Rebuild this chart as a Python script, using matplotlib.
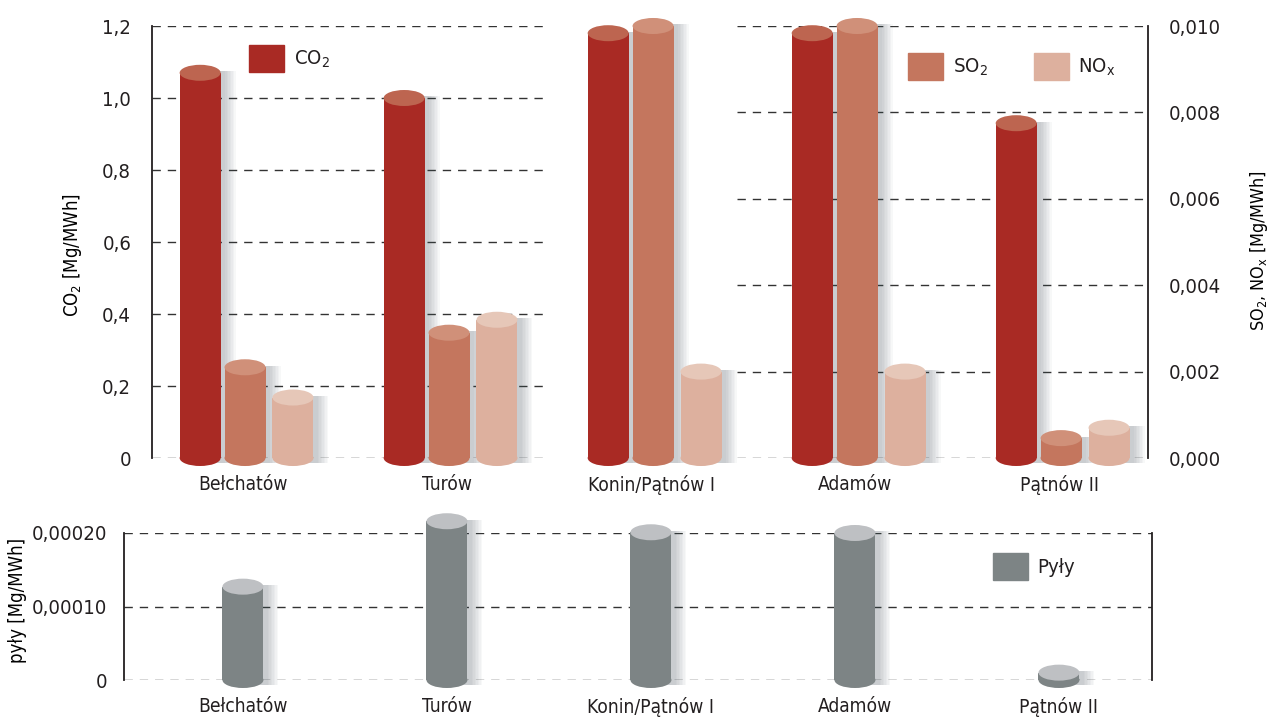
import numpy as np
import matplotlib
matplotlib.use('Agg')
import matplotlib.pyplot as plt
import matplotlib.font_manager as fm
from matplotlib.font_manager import FontProperties
from matplotlib.textpath import TextPath
from matplotlib.patches import Ellipse, Patch
from matplotlib.lines import Line2D
from matplotlib.transforms import blended_transform_factory

# look for a narrow face, the original uses a condensed font
family, stretch = 'DejaVu Sans', 'normal'
narrow = [f for f in fm.fontManager.ttflist
          if f.style == 'normal' and f.weight in (400, 'normal', 'regular')
          and (f.stretch in ('condensed', 'semi-condensed', 'extra-condensed')
               or 'Narrow' in f.name or 'Condensed' in f.name)]
for pref in ['Liberation Sans Narrow', 'DejaVu Sans', 'Roboto Condensed', 'Noto Sans',
             'Open Sans', 'Liberation Sans']:
    hit = [f for f in narrow if f.name == pref]
    if hit:
        family, stretch = hit[0].name, hit[0].stretch
        break
else:
    if narrow:
        family, stretch = narrow[0].name, narrow[0].stretch
    elif any(f.name == 'Roboto' for f in fm.fontManager.ttflist):
        family = 'Roboto'

plt.rcParams['font.family'] = [family, 'DejaVu Sans']
plt.rcParams['font.stretch'] = stretch
plt.rcParams['mathtext.fontset'] = 'custom'
plt.rcParams['mathtext.rm'] = family
plt.rcParams['mathtext.it'] = family
plt.rcParams['text.color'] = '#231f20'
plt.rcParams['xtick.color'] = '#231f20'
plt.rcParams['ytick.color'] = '#231f20'

# scale font sizes so that a label is as wide as in the original (87 px)
tp = TextPath((0, 0), 'Bełchatów', size=16.5, prop=FontProperties(family=family, stretch=stretch))
fs = min(1.0, 87.0 / (tp.get_extents().width * 100 / 72))

# data
plants = ['Bełchatów', 'Turów', 'Konin/Pątnów I', 'Adamów', 'Pątnów II']
co2 = [1.07, 1.0, 1.18, 1.18, 0.93]
so2 = [0.0021, 0.0029, 0.0100, 0.0100, 0.00046]
nox = [0.0014, 0.0032, 0.0020, 0.0020, 0.0007]
pyly = [0.000127, 0.000216, 0.000201, 0.000200, 0.00001]

left_ticks = [0, 0.2, 0.4, 0.6, 0.8, 1.0, 1.2]
left_labels = ['0', '0,2', '0,4', '0,6', '0,8', '1,0', '1,2']
right_ticks = [0, 0.002, 0.004, 0.006, 0.008, 0.010]
right_labels = ['0,000', '0,002', '0,004', '0,006', '0,008', '0,010']
bottom_ticks = [0, 0.0001, 0.0002]
bottom_labels = ['0', '0,00010', '0,00020']

# colours (body, top)
c_co2 = ('#a92a24', '#bd6550')
c_so2 = ('#c4765e', '#d09079')
c_nox = ('#ddb09e', '#e6c7b8')
c_pyl = ('#7d8485', '#bec0c3')

W, H = 1275, 719
fig = plt.figure(figsize=(W / 100, H / 100), dpi=100)

ax = fig.add_axes([152 / W, 1 - 458 / H, 996 / W, 432 / H])
ax2 = ax.twinx()
ax3 = fig.add_axes([124 / W, 1 - 680 / H, 1028 / W, 147 / H])

PX = 1 / 204.0   # one pixel in x data units
BW = 41 * PX


def cylinder(a, xs, vals, colors, ell_px, ax_px, ymax):
    ell = ell_px / ax_px * ymax
    xs = np.asarray(xs)
    # soft shadow, mostly to the right
    for k in range(1, 9):
        a.bar(xs + (3 + k) * PX, np.asarray(vals) + ell * 0.4, width=BW + k * PX,
              bottom=-ell * 0.3, color='#4a5560', alpha=0.04, linewidth=0,
              zorder=2, clip_on=False)
    a.bar(xs, vals, width=BW, color=colors[0], linewidth=0, zorder=3, clip_on=False)
    for x, v in zip(xs, vals):
        a.add_patch(Ellipse((x, 0), BW, ell, color=colors[0], lw=0, zorder=3, clip_on=False))
        a.add_patch(Ellipse((x, v), BW, ell, color=colors[1], lw=0, zorder=4, clip_on=False))


x = np.arange(len(plants))
cylinder(ax, x - 0.21, co2, c_co2, 16, 432, 1.2)
cylinder(ax2, x + 0.01, so2, c_so2, 16, 431, 0.010)
cylinder(ax2, x + 0.245, nox, c_nox, 16, 431, 0.010)
cylinder(ax3, x, pyly, c_pyl, 16, 147, 0.0002)

# gridlines: left scale on the left part, right scale on the right part
grid_kw = dict(color='#333333', lw=1.0, linestyle=(0, (6, 5)), zorder=0)
ax.hlines(left_ticks, -0.446, 1.49, **grid_kw)
tr = blended_transform_factory(ax.transData, ax2.transData)
for v in right_ticks:
    ax.add_line(Line2D([2.42, 4.436], [v, v], transform=tr, **grid_kw))
ax3.hlines(bottom_ticks, -0.583, 4.456, **grid_kw)

ax.set_xlim(-0.446, 4.436)
ax.set_ylim(0, 1.2)
ax2.set_ylim(0, 0.010)
ax3.set_xlim(-0.583, 4.456)
ax3.set_ylim(0, 0.0002)

ax.set_yticks(left_ticks, left_labels)
ax2.set_yticks(right_ticks, right_labels)
ax3.set_yticks(bottom_ticks, bottom_labels)
ax.set_xticks(x, plants)
ax3.set_xticks(x, plants)

for a in (ax, ax2, ax3):
    a.tick_params(length=0, labelsize=17.5 * fs)
    a.tick_params(axis='x', pad=12, labelsize=16.5 * fs)
    for s in a.spines.values():
        s.set_visible(False)
        s.set_color('#231f20')
        s.set_linewidth(1.3)
ax.tick_params(axis='y', pad=15)
ax2.tick_params(axis='y', pad=15)
ax3.tick_params(axis='y', pad=12)
ax.spines['left'].set_visible(True)
ax2.spines['right'].set_visible(True)
ax3.spines['left'].set_visible(True)
ax3.spines['right'].set_visible(True)

ax.set_ylabel('CO$_2$ [Mg/MWh]', fontsize=16 * fs)
ax.yaxis.set_label_coords(-0.068, 0.47)
ax2.set_ylabel('SO$_2$, NO$_\\mathrm{x}$ [Mg/MWh]', fontsize=15.5 * fs)
ax2.yaxis.set_label_coords(1.1, 0.48)
ax3.set_ylabel('pyły [Mg/MWh]', fontsize=16 * fs)
ax3.yaxis.set_label_coords(-0.094, 0.54)

leg_kw = dict(loc='upper left', frameon=False, fontsize=17.5 * fs, handlelength=1.44 / fs,
              handleheight=1.4 / fs, borderpad=0, borderaxespad=0, handletextpad=0.4 / fs)
fig.legend(handles=[Patch(color=c_co2[0], label='CO$_2$')],
           bbox_to_anchor=(249 / W, 1 - 45 / H), **leg_kw)
fig.legend(handles=[Patch(color=c_so2[0], label='SO$_2$'),
                    Patch(color=c_nox[0], label='NO$_\\mathrm{x}$')],
           bbox_to_anchor=(908 / W, 1 - 53 / H), ncol=2, columnspacing=1.9 / fs, **leg_kw)
fig.legend(handles=[Patch(color=c_pyl[0], label='Pyły')],
           bbox_to_anchor=(993 / W, 1 - 553 / H), **leg_kw)

fig.savefig('out.png', dpi=100)
